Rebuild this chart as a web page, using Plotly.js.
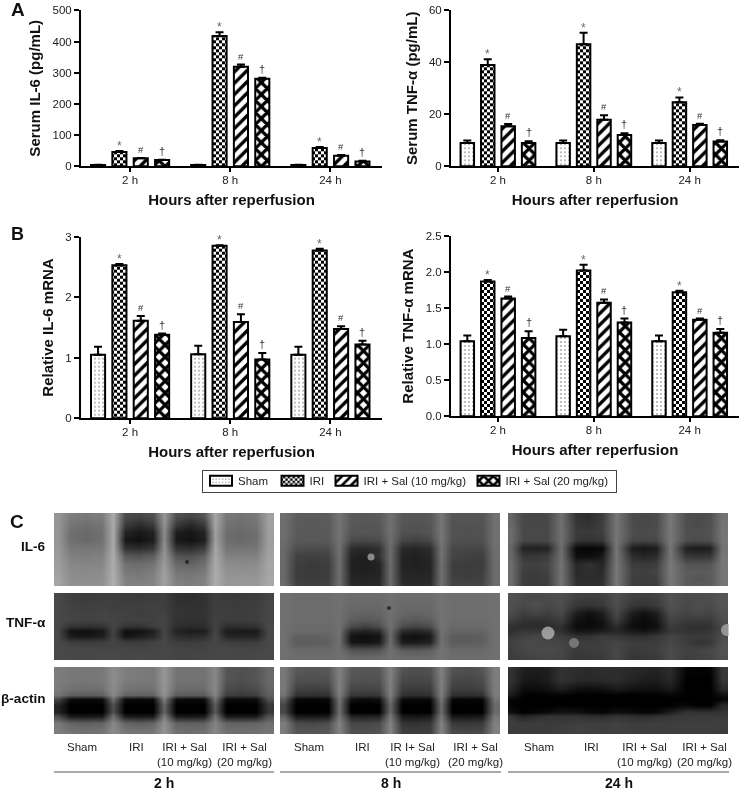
<!DOCTYPE html>
<html><head><meta charset="utf-8">
<script src="https://cdn.plot.ly/plotly-3.0.1.min.js"></script>
<style>html,body{margin:0;padding:0;background:#fff}#c{width:739px;height:791px;filter:grayscale(1)}</style>
</head><body><div id="c"></div>
<script>
// ---------- bar chart data ----------
const hours = ["2 h","8 h","24 h"];
const groupNames = ["Sham","IRI","IRI + Sal (10 mg/kg)","IRI + Sal (20 mg/kg)"];
const marks = ["","*","#","†"];

const il6SerumVals = [[4,4,4],[46,418,59],[26,319,34],[20,281,15]];
const il6SerumErr  = [[1,1,1],[3,12,3],[1,7,2],[1,3,3]];
const tnfSerumVals = [[9,9,9],[39,46.9,24.6],[15.4,17.9,15.9],[9,12,9.5]];
const tnfSerumErr  = [[0.9,0.9,0.9],[2.2,4.5,1.9],[0.9,1.7,0.5],[0.6,0.7,0.5]];
const il6MrnaVals  = [[1.05,1.06,1.05],[2.53,2.85,2.77],[1.61,1.59,1.475],[1.38,0.97,1.22]];
const il6MrnaErr   = [[0.13,0.14,0.13],[0.02,0.01,0.03],[0.08,0.13,0.045],[0.02,0.11,0.06]];
const tnfMrnaVals  = [[1.04,1.11,1.04],[1.87,2.02,1.72],[1.635,1.575,1.34],[1.085,1.30,1.16]];
const tnfMrnaErr   = [[0.08,0.09,0.08],[0.02,0.08,0.02],[0.025,0.045,0.015],[0.095,0.055,0.05]];

// ---------- blot grey levels (0 black .. 255 white) ----------
const blotColsA = [4,16,32,48,59,71,85,99,110,122,136,150,161,172,187,202,214];
const blotColsC = [3,15,27,39,53,68,81,94,108,124,136,148,162,178,190,202,214];
const rowsIL6 = [3,11,19,27,35,43,51,59,66,71];
const rowsTNF = [3,12,20,27,33,38,43,49,57,64];
const rowsACT = [3,13,22,28,32,38,45,49,56,64];

const il6_2h = [
[150,125,120,125,170,75,70,80,150,80,70,85,165,120,115,120,160],
[150,118,112,118,170,60,45,60,145,60,40,60,165,115,110,115,160],
[150,112,105,112,170,35,25,35,140,30,22,35,160,110,105,110,158],
[150,112,105,112,170,25,15,28,140,25,18,30,160,110,105,110,158],
[152,120,118,120,170,50,45,55,145,50,45,60,165,118,115,118,160],
[155,128,125,130,172,90,85,95,150,85,80,95,168,130,128,130,162],
[158,135,132,135,172,112,108,115,155,105,100,112,170,140,138,140,165],
[160,140,138,140,172,120,118,125,160,118,115,122,172,145,145,145,165],
[165,142,140,142,175,128,125,130,160,125,122,128,172,150,150,150,168],
[165,145,145,145,175,130,128,132,160,128,125,130,172,150,152,152,168]];
const il6_8h = [
[110,92,90,92,115,90,88,90,112,88,86,88,118,85,85,85,112],
[110,90,88,90,115,88,85,88,112,85,82,85,118,82,82,82,112],
[110,90,88,90,115,85,85,85,112,82,80,85,118,82,80,82,112],
[108,88,88,88,115,75,72,75,110,70,65,72,118,80,78,80,112],
[105,78,75,78,113,45,40,50,108,42,38,45,115,72,70,70,110],
[105,65,62,65,112,35,30,50,108,35,32,38,115,68,65,62,110],
[105,62,58,62,110,32,30,35,108,35,32,36,112,62,60,60,108],
[105,60,58,60,110,35,32,35,108,38,35,38,112,62,60,62,108],
[105,62,60,62,110,38,35,38,108,40,38,40,112,65,62,65,108],
[108,65,62,65,112,42,40,42,108,45,42,45,112,68,68,68,108]];
const il6_24h = [
[100,72,70,72,112,50,45,60,118,75,72,75,120,78,75,80,115],
[105,72,70,72,112,55,50,62,118,75,72,75,120,78,75,80,115],
[108,72,72,72,112,60,58,62,118,78,75,78,120,80,78,82,118],
[108,72,70,72,112,55,50,55,118,72,70,72,120,78,75,80,118],
[100,35,32,35,110,8,5,8,118,28,22,28,118,32,28,32,115],
[105,55,55,60,112,15,12,25,118,45,38,45,118,55,52,55,118],
[108,65,62,68,115,40,50,38,118,60,58,62,120,85,85,85,118],
[108,62,60,65,115,42,45,42,120,65,62,68,120,92,90,92,118],
[108,60,58,62,115,45,45,45,120,62,60,62,120,90,85,90,118],
[108,60,58,62,115,48,48,48,120,62,60,62,120,92,90,92,118]];
const tnf_2h = [
[72,62,60,62,62,60,58,60,62,48,45,50,62,58,58,60,68],
[72,65,62,65,62,62,62,65,62,50,48,50,62,60,60,62,70],
[72,68,65,68,65,65,62,65,65,52,50,52,62,62,60,62,70],
[72,68,65,68,68,65,65,65,68,50,48,50,65,60,60,62,70],
[72,52,48,50,68,52,50,62,68,45,42,45,65,45,45,50,72],
[72,18,15,22,68,15,18,30,70,35,28,30,68,28,25,25,72],
[72,28,22,30,68,20,28,40,70,45,42,45,70,38,35,35,72],
[72,62,60,62,68,60,60,65,70,62,60,62,70,62,60,62,72],
[72,72,72,70,70,70,70,70,70,68,68,68,70,72,70,70,72],
[72,72,70,72,72,70,72,70,72,68,68,70,70,70,70,72,72]];
const tnf_8h = [
[112,108,108,108,112,108,108,108,112,108,108,108,115,110,110,110,112],
[112,108,108,108,112,105,105,105,112,105,105,105,115,110,110,110,112],
[112,108,108,108,112,100,98,100,112,102,100,102,115,110,110,110,112],
[112,108,108,108,112,92,88,92,112,92,88,92,115,108,108,108,112],
[112,105,105,105,112,75,65,78,112,78,68,78,115,105,105,105,112],
[112,105,105,105,112,40,32,42,110,42,35,45,113,100,100,100,112],
[112,95,95,98,112,18,15,20,108,20,15,25,113,92,90,95,112],
[112,92,92,95,112,22,18,25,110,28,25,35,113,92,92,95,112],
[112,105,105,105,112,85,82,85,112,92,90,95,115,105,105,105,112],
[112,108,108,108,112,105,102,105,112,108,105,108,115,108,108,108,112]];
const tnf_24h = [
[80,75,72,75,78,65,62,65,78,65,62,65,82,75,75,78,85],
[80,72,80,72,78,55,52,55,78,55,52,58,82,72,78,75,85],
[75,62,68,62,72,30,15,30,72,30,15,30,75,68,72,68,82],
[62,50,50,50,62,18,10,20,62,18,10,20,68,58,58,58,78],
[48,45,42,45,48,12,10,15,45,12,10,15,60,50,48,50,72],
[48,55,55,55,48,22,22,30,40,25,20,30,55,52,50,55,72],
[58,65,70,68,60,50,50,60,55,50,48,55,68,60,58,60,75],
[65,72,72,70,68,60,60,62,68,60,60,60,72,60,50,55,80],
[62,70,72,75,70,58,62,62,72,58,60,62,75,65,68,72,82],
[60,65,68,70,68,55,55,58,72,52,55,58,75,62,65,70,80]];
const act_2h = [
[125,120,118,120,140,125,122,120,150,115,115,115,135,85,80,85,105],
[125,120,118,120,140,125,122,120,150,115,115,115,135,85,78,85,105],
[122,112,110,112,140,115,112,112,148,108,105,108,135,75,70,75,100],
[115,95,92,95,135,98,95,98,145,92,90,92,130,62,58,62,95],
[70,12,8,12,110,12,8,12,125,12,8,12,115,12,8,12,80],
[35,0,0,0,80,0,0,0,100,0,0,0,90,0,0,0,55],
[35,0,0,0,80,0,0,0,100,0,0,0,90,0,0,0,55],
[75,25,22,25,110,25,22,25,125,25,22,25,115,25,22,25,80],
[120,100,95,100,135,100,95,100,145,98,95,98,130,100,98,100,110],
[125,115,112,115,140,118,115,118,148,112,110,112,135,112,110,112,118]];
const act_8h = [
[120,88,85,88,128,88,85,88,128,82,78,82,128,82,78,85,125],
[120,80,78,80,128,82,80,82,128,72,70,72,128,72,70,75,125],
[120,65,62,65,128,70,68,70,128,60,58,60,128,62,60,65,125],
[115,50,48,50,125,55,52,55,125,48,45,48,125,48,45,48,122],
[90,8,5,8,115,15,10,15,118,10,8,10,118,8,5,8,115],
[70,0,0,0,110,0,0,0,105,0,0,0,108,0,0,0,105],
[70,0,0,0,110,0,0,0,105,0,0,0,108,0,0,0,105],
[100,25,22,25,118,35,32,35,120,25,20,25,120,22,20,25,118],
[125,75,72,78,130,72,70,75,130,52,50,55,130,58,55,58,128],
[125,85,85,88,130,80,78,82,132,62,60,62,132,72,70,72,128]];
const act_24h = [
[50,30,28,30,50,45,42,45,45,40,38,35,45,5,2,5,55],
[50,25,22,28,50,42,40,42,45,35,30,28,40,0,0,0,55],
[40,12,12,15,30,15,12,15,25,18,15,15,25,0,0,0,40],
[25,2,0,2,5,0,0,0,0,0,0,0,5,0,0,0,15],
[5,0,0,0,0,0,0,0,0,0,0,0,0,0,0,0,5],
[5,0,0,0,0,0,0,0,0,0,0,0,0,8,0,0,40],
[15,0,5,10,20,18,10,5,15,10,5,8,30,52,50,50,52],
[55,35,45,52,50,52,48,45,52,48,45,50,55,58,58,58,58],
[62,60,60,58,60,62,62,62,65,60,60,62,62,62,62,62,62],
[58,60,60,60,62,65,65,62,65,62,62,62,62,62,62,62,60]];

// specks on the films: [panel, x, y, size, grey]
const specks = [
 [0,133,49,4,"#111"],[1,91,44,7,"#b5b5b5"],[4,109,15,4,"#111"],
 [5,40,40,13,"#c4c4bc"],[5,66,50,10,"#8f8f8f"],[5,219,37,12,"#b5b5b0"]
];

const laneLabels = [
 ["Sham","IRI","IRI + Sal<br>(10 mg/kg)","IRI + Sal<br>(20 mg/kg)"],
 ["Sham","IRI","IR I+ Sal<br>(10 mg/kg)","IRI + Sal<br>(20 mg/kg)"],
 ["Sham","IRI","IRI + Sal<br>(10 mg/kg)","IRI + Sal<br>(20 mg/kg)"]];
const blotRowNames = ["IL-6","TNF-α","β-actin"];

// ---------- layout helpers ----------
const W=739,H=791, FONT='"Liberation Sans", Arial, sans-serif';
const px=v=>v/W, py=v=>1-v/H;
const txt="#222";
const traces=[];
const layout={width:W,height:H,margin:{l:0,r:0,t:0,b:0},paper_bgcolor:"#fff",plot_bgcolor:"#fff",
  font:{family:FONT,color:txt,size:12},barmode:"group",bargap:0.147,bargroupgap:0.34,
  annotations:[],shapes:[],
  legend:{orientation:"h",x:px(202),xanchor:"left",y:py(469.5),yanchor:"top",
    bgcolor:"#fff",bordercolor:"#444",borderwidth:1,font:{size:11.5,family:FONT,color:txt},
    itemwidth:30,tracegroupgap:0}};

const patterns=[
 {shape:".",size:4,solidity:0.12,fgcolor:"#666",bgcolor:"#fff"},
 {shape:"+",size:6,solidity:0.5,fgcolor:"#000",bgcolor:"#fff"},
 {shape:"/",size:8,solidity:0.42,fgcolor:"#000",bgcolor:"#fff"},
 {shape:"x",size:8.5,solidity:0.62,fgcolor:"#000",bgcolor:"#fff"}];

function barPanel(idx,vals,errs,box,ytitle,ymax,dtick,fmt){
  const s=idx===0?"":String(idx+1);
  const xa="xaxis"+s, ya="yaxis"+s;
  layout[xa]={domain:[px(box.l),px(box.r)],anchor:"y"+s,type:"category",categories:hours,
    categoryorder:"array",categoryarray:hours,range:[-0.49,2.515],showline:true,linecolor:"#000",linewidth:2,
    ticks:"outside",ticklen:4,tickwidth:2,tickcolor:"#000",showgrid:false,zeroline:false,ticklabelstandoff:-2,
    tickfont:{size:11.5,color:txt,family:FONT},
    title:{text:"<b>Hours after reperfusion</b>",font:{size:15,color:"#111",family:FONT},standoff:9}};
  layout[ya]={domain:[py(box.b),py(box.t)],anchor:"x"+s,range:[0,ymax],dtick:dtick,tickformat:fmt,
    showline:true,linecolor:"#000",linewidth:2,ticks:"outside",ticklen:5,tickwidth:2,tickcolor:"#000",
    showgrid:false,zeroline:false,tickfont:{size:11.5,color:txt,family:FONT},
    title:{text:"<b>"+ytitle+"</b>",font:{size:15,color:"#111",family:FONT},standoff:8}};
  groupNames.forEach((n,j)=>{
    traces.push({type:"bar",name:n,x:hours,y:vals[j],xaxis:"x"+s,yaxis:"y"+s,showlegend:idx===0,
      offsetgroup:String(j),
      marker:{color:"#fff",line:{color:"#000",width:2},pattern:patterns[j]},
      error_y:{type:"data",symmetric:false,array:errs[j],arrayminus:[0,0,0],color:"#000",thickness:2,width:4}});
    if(marks[j]) hours.forEach((h,g)=>{
      layout.annotations.push({xref:"x"+s,yref:"y"+s,x:g+(j-1.5)*0.2133,y:vals[j][g]+errs[j][g],
        text:marks[j],showarrow:false,yanchor:"bottom",yshift:marks[j]==="*"?-4:1,
        font:{size:marks[j]==="*"?12:(marks[j]==="#"?9.5:11),color:marks[j]==="*"?"#666":"#333",family:FONT}});
    });
  });
}
barPanel(0,il6SerumVals,il6SerumErr,{l:81,r:382,t:10.3,b:166.3},"Serum IL-6 (pg/mL)",500,100,"");
barPanel(1,tnfSerumVals,tnfSerumErr,{l:451,r:739,t:10.3,b:166.3},"Serum TNF-α (pg/mL)",60,20,"");
barPanel(2,il6MrnaVals,il6MrnaErr,{l:81,r:382,t:236.7,b:418.3},"Relative IL-6 mRNA",3,1,"");
barPanel(3,tnfMrnaVals,tnfMrnaErr,{l:451,r:739,t:236,b:416.3},"Relative TNF-α mRNA",2.5,0.5,".1f");

// ---------- blots ----------
const blotCols=[{l:54,r:274,xs:blotColsA},{l:280,r:501,xs:blotColsA},{l:508,r:729,xs:blotColsC}];
const blotRows=[{t:513,b:586,ys:rowsIL6,h:73},{t:593,b:660,ys:rowsTNF,h:67},{t:667,b:734,ys:rowsACT,h:67}];
const blotData=[il6_2h,il6_8h,il6_24h,tnf_2h,tnf_8h,tnf_24h,act_2h,act_8h,act_24h];
blotData.forEach((z,k)=>{
  const c=blotCols[k%3], r=blotRows[Math.floor(k/3)], n=5+k, s=String(n);
  layout["xaxis"+s]={domain:[px(c.l),px(c.r)],anchor:"y"+s,range:[0,c.r-c.l],visible:false,fixedrange:true};
  layout["yaxis"+s]={domain:[py(r.b),py(r.t)],anchor:"x"+s,range:[r.h,0],visible:false,fixedrange:true};
  traces.push({type:"heatmap",z:z,x:c.xs,y:r.ys,xaxis:"x"+s,yaxis:"y"+s,zmin:0,zmax:255,zsmooth:"best",
    colorscale:[[0,"#000"],[1,"#fff"]],showscale:false,hoverinfo:"skip"});
  const sp=specks.filter(q=>q[0]===k);
  if(sp.length) traces.push({type:"scatter",mode:"markers",x:sp.map(q=>q[1]),y:sp.map(q=>q[2]),
    xaxis:"x"+s,yaxis:"y"+s,showlegend:false,hoverinfo:"skip",
    marker:{size:sp.map(q=>q[3]),color:sp.map(q=>q[4]),line:{width:0}}});
});

// ---------- page text ----------
function note(text,x,y,size,o){
  layout.annotations.push(Object.assign({xref:"paper",yref:"paper",x:px(x),y:py(y),text:text,showarrow:false,
    xanchor:"center",yanchor:"middle",font:{size:size,color:txt,family:FONT}},o||{}));
}
note("<b>A</b>",18,9,19,{font:{size:19,color:"#111",family:FONT}});
note("<b>B</b>",17,234,18,{font:{size:18,color:"#111",family:FONT}});
note("<b>C</b>",17,521,19,{font:{size:19,color:"#111",family:FONT}});
[546,622,698].forEach((y,i)=>note("<b>"+blotRowNames[i]+"</b>",47.5,y,13.6,{xanchor:"right",borderpad:0,font:{size:13.6,color:"#111",family:FONT}}));
const laneX=[[82,136,184,244],[309,362,412,475],[539,591,644,704]];
laneLabels.forEach((col,c)=>col.forEach((t,i)=>{
  note(t,laneX[c][i],746,11.5,{yanchor:"top",yshift:7,font:{size:11.5,color:txt,family:FONT}});
}));
[["2 h",164],["8 h",391],["24 h",619]].forEach(a=>note("<b>"+a[0]+"</b>",a[1],782.5,14,{borderpad:0,font:{size:14,color:"#111",family:FONT}}));
blotCols.forEach(c=>layout.shapes.push({type:"line",xref:"paper",yref:"paper",x0:px(c.l),x1:px(c.r),y0:py(772),y1:py(772),line:{color:"#555",width:1}}));

// legend item placement (offsets from the box's left edge) and size of the box
const legendItemX=[-1,70.5,124.5,266.5], legendBox=[414,22.5];

Plotly.newPlot("c",traces,layout,{displayModeBar:false,staticPlot:true}).then(gd=>{
  // IRI fill: turn the "+" pattern (the only one of size 6) into the square checker seen on the bars
  const NS="http://www.w3.org/2000/svg";
  gd.querySelectorAll("pattern").forEach(p=>{
    if(parseFloat(p.getAttribute("width"))===6){
      while(p.firstChild)p.removeChild(p.firstChild);
      [[0,0,6,6,"#fff"],[0,0,3,3,"#000"],[3,3,3,3,"#000"]].forEach(r=>{
        const e=document.createElementNS(NS,"rect");
        e.setAttribute("x",r[0]);e.setAttribute("y",r[1]);e.setAttribute("width",r[2]);e.setAttribute("height",r[3]);e.setAttribute("fill",r[4]);
        p.appendChild(e);
      });
    }
  });
  // legend: wide low swatches and tighter spacing, as in the reference
  gd.querySelectorAll(".legendpoints path").forEach(p=>p.setAttribute("d","M11,5H-11V-5H11Z"));
  gd.querySelectorAll(".legend .traces").forEach((g,i)=>{
    g.setAttribute("transform","translate("+legendItemX[i]+","+(legendBox[1]/2)+")");
    const t=g.querySelector(".legendtext"); if(t) t.setAttribute("x",37);
  });
  const bg=gd.querySelector(".legend .bg");
  if(bg){bg.setAttribute("width",legendBox[0]);bg.setAttribute("height",legendBox[1]);}
});
</script></body></html>
